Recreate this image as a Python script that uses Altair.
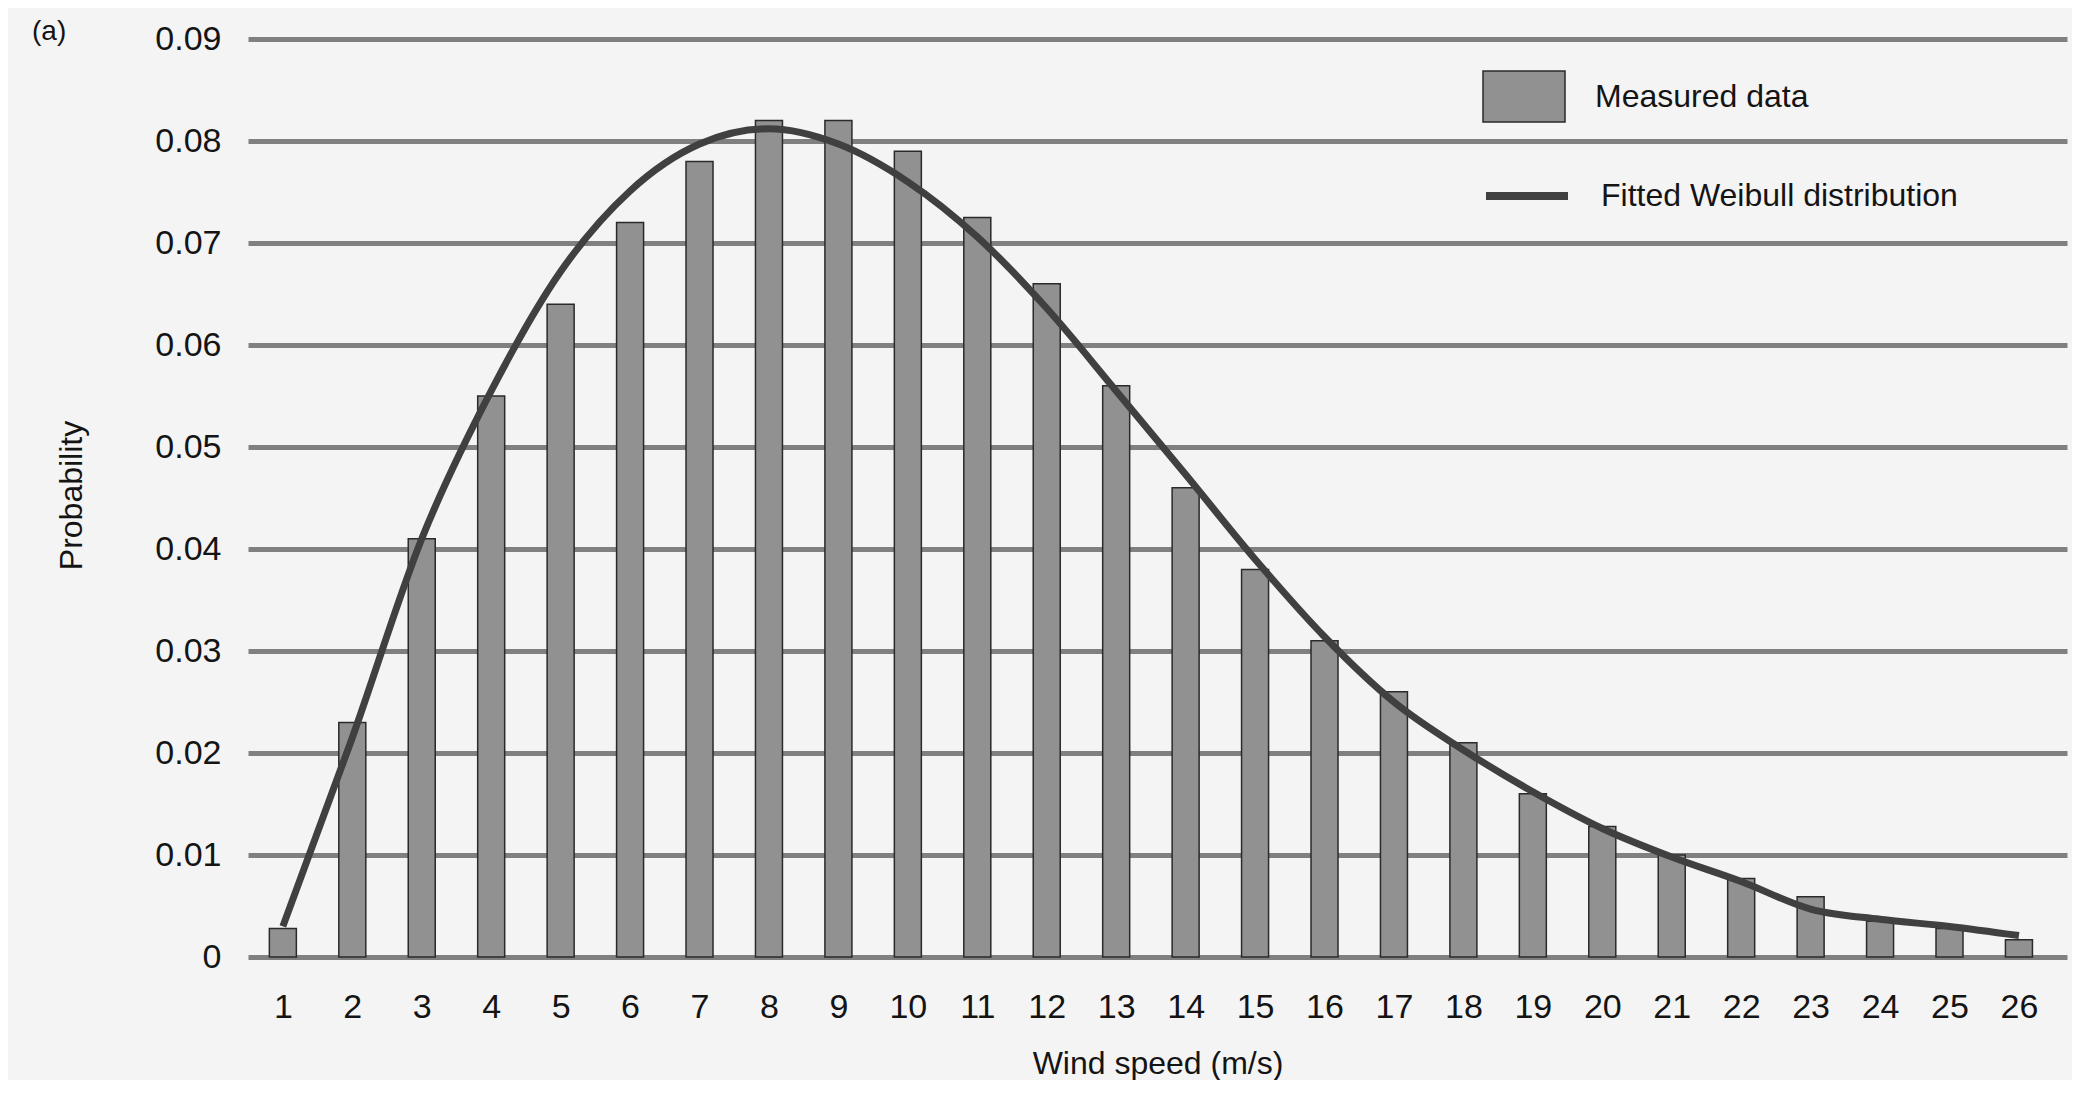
import altair as alt
import pandas as pd

# ---- data ----
wind_speed = list(range(1, 27))
measured = [0.0028, 0.023, 0.041, 0.055, 0.064, 0.072, 0.078, 0.082, 0.082, 0.079,
            0.0725, 0.066, 0.056, 0.046, 0.038, 0.031, 0.026, 0.021, 0.016, 0.0128,
            0.0100, 0.0077, 0.0059, 0.0035, 0.0028, 0.0017]
weibull = [0.0030, 0.0215, 0.0410, 0.0555, 0.0672, 0.0751, 0.0797, 0.0812, 0.0797, 0.0760,
           0.0706, 0.0636, 0.0555, 0.0473, 0.0390, 0.0314, 0.0250, 0.0203, 0.0162, 0.0126,
           0.0098, 0.0074, 0.0047, 0.0037, 0.0030, 0.0021]
bar_series = ["Measured data"]
line_series = ["Fitted Weibull distribution"]
bar_color = ["#919191"]
line_color = ["#404040"]
y_ticks = [0, 0.01, 0.02, 0.03, 0.04, 0.05, 0.06, 0.07, 0.08, 0.09]

bars_df = pd.DataFrame({"speed": wind_speed, "prob": measured, "series": bar_series[0]})
line_df = pd.DataFrame({"speed": wind_speed, "prob": weibull, "series": line_series[0]})

FONT = "Liberation Sans"
TXT = "#141414"

x_enc = alt.X(
    "speed:Q",
    scale=alt.Scale(domain=[0.57, 26.62], nice=False, zero=False),
    axis=alt.Axis(
        values=wind_speed, format="d", grid=False, ticks=False, domain=False,
        labelFontSize=34, labelPadding=33, labelColor=TXT, labelFont=FONT,
        title="Wind speed (m/s)", titleFontSize=32, titleFontWeight="normal",
        titleColor=TXT, titleFont=FONT, titleX=909.5, titleY=116,
        titleBaseline="alphabetic", titleAlign="center",
    ),
)
y_enc = alt.Y(
    "prob:Q",
    scale=alt.Scale(domain=[0, 0.09], nice=False, zero=True),
    axis=alt.Axis(
        values=y_ticks, format="~g", grid=True, gridColor="#808080", gridWidth=5,
        gridOpacity=1, ticks=False, domain=False,
        labelFontSize=34, labelPadding=27, labelColor=TXT, labelFont=FONT,
        title="Probability", titleFontSize=32, titleFontWeight="normal",
        titleColor=TXT, titleFont=FONT, titleAngle=270, titleX=-176.5, titleY=456,
        titleBaseline="middle", titleAlign="center",
    ),
)

common_legend = dict(
    orient="none", legendX=1234, title=None, direction="vertical",
    symbolSize=6724, labelFontSize=32, labelFont=FONT, labelColor=TXT,
    labelOffset=29, labelLimit=1000, padding=0, symbolOpacity=1,
)

fill_enc = alt.Fill(
    "series:N",
    scale=alt.Scale(domain=bar_series, range=bar_color),
    legend=alt.Legend(
        legendY=15.5, symbolType="M-1,-0.62H1V0.62H-1Z",
        symbolStrokeColor="#2a2a2a", symbolStrokeWidth=1.5, **common_legend,
    ),
)
stroke_enc = alt.Stroke(
    "series:N",
    scale=alt.Scale(domain=line_series, range=line_color),
    legend=alt.Legend(
        legendY=112, symbolType="stroke", symbolStrokeWidth=8, **common_legend,
    ),
)

bars = alt.Chart(bars_df).mark_bar(size=27, stroke="#2a2a2a", strokeWidth=1.5, opacity=1).encode(
    x=x_enc, y=y_enc, fill=fill_enc
)
line = alt.Chart(line_df).mark_line(strokeWidth=7, interpolate="monotone", strokeCap="butt").encode(
    x="speed:Q", y="prob:Q", stroke=stroke_enc
)

chart = (
    alt.layer(bars, line)
    .properties(
        width=1819,
        height=918,
        autosize=alt.AutoSizeParams(type="none"),
        padding={"left": 240, "top": 31, "right": 5, "bottom": 123},
        background="#f4f4f4",
        title=alt.TitleParams(
            text="(a)", anchor="start", frame="group", fontSize=28, fontWeight="normal",
            font=FONT, color=TXT, dx=-216, dy=46, baseline="alphabetic", offset=0,
        ),
    )
    .configure_view(stroke=None)
)

chart.save("out.html", embed_options={"renderer": "svg", "actions": False})
